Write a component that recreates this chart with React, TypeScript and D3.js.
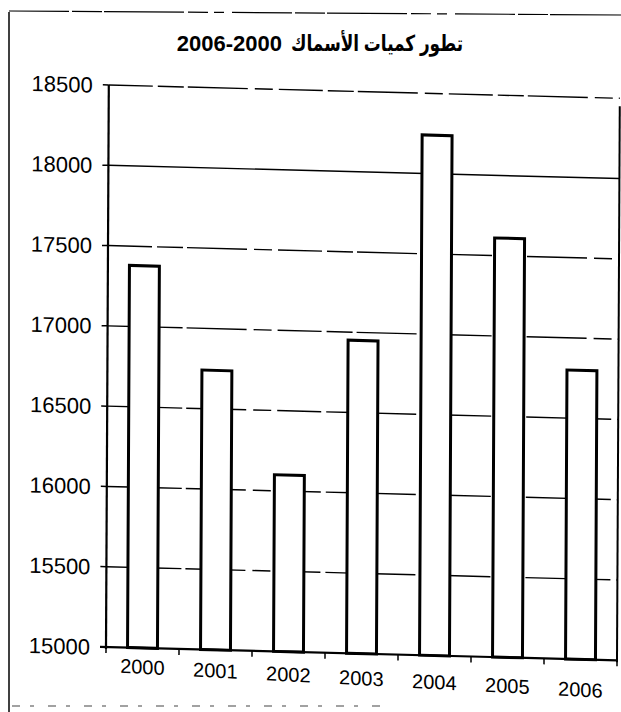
import * as d3 from "d3";

const years = ["2000", "2001", "2002", "2003", "2004", "2005", "2006"];
const fishTonnes = [17380, 16740, 16100, 16950, 18240, 17610, 16800];
const yTicks = [15000, 15500, 16000, 16500, 17000, 17500, 18000, 18500];
const titleWords = "تطور كميات الأسماك";
const titleYears = "2006-2000";

const W = 621;
const H = 712;
const font = "Arial, 'Liberation Sans', 'DejaVu Sans', sans-serif";

export default function App() {
  const left = 106;
  const right = 617;
  const top = 85;
  const bottom = 647;

  const x = d3.scaleBand().domain(years).range([left, right]).paddingInner(0.59).paddingOuter(0.295);
  const y = d3.scaleLinear().domain([15000, 18500]).range([bottom, top]);

  // the scan is a bit crooked: lines run downhill to the right
  const tilt = 0.026;
  const lean = -0.005;
  const skew = `matrix(1 ${tilt} ${lean} 1 ${-lean * bottom} ${-tilt * left})`;
  const labelTilt = 0.026;

  // gaps between categories for the tick marks under the axis
  const step = x.step();
  const catTicks = d3.range(years.length + 1).map((i) => left + i * step);

  return (
    <svg width={W} height={H} style={{ position: "absolute", left: 0, top: 0, background: "#fff" }}>
      {/* frame of the scanned figure */}
      <line x1={9} y1={12} x2={9} y2={H} stroke="#000" strokeWidth={1.5} />
      <line x1={9} y1={11} x2={W} y2={15} stroke="#000" strokeWidth={1.2} strokeDasharray="60 3 30 2 80 4 20 6 10 8" />
      <line x1={12} y1={706} x2={380} y2={706} stroke="#444" strokeWidth={1.2} strokeDasharray="8 10 4 14" />

      {/* title: years on the left, arabic words on the right */}
      <text x={282} y={51} textAnchor="end" fontFamily={font} fontWeight="bold" fontSize={22} fill="#000">
        {titleYears}
      </text>
      <text
        x={463}
        y={51}
        textAnchor="start"
        direction="rtl"
        fontFamily={font}
        fontWeight="bold"
        fontSize={22}
        fill="#000"
        textLength={172}
        lengthAdjust="spacingAndGlyphs"
      >
        {titleWords}
      </text>

      <g transform={skew}>
        {/* gridlines */}
        {yTicks.map((t) => (
          <line
            key={"g" + t}
            x1={left}
            x2={right}
            y1={y(t)}
            y2={y(t)}
            stroke="#000"
            strokeWidth={t === 15000 ? 0 : 1.4}
            strokeDasharray={t === 18000 ? "none" : "44 5 26 4 60 7 18 6"}
          />
        ))}

        {/* bars */}
        {years.map((yr, i) => (
          <rect
            key={yr}
            x={x(yr)}
            y={y(fishTonnes[i])}
            width={x.bandwidth()}
            height={bottom - y(fishTonnes[i])}
            fill="#fff"
            stroke="#000"
            strokeWidth={3}
          />
        ))}

        {/* axes and plot border */}
        <line x1={left} x2={left} y1={top} y2={bottom + 2} stroke="#000" strokeWidth={2.2} />
        <line x1={right} x2={right} y1={top + 8} y2={bottom + 2} stroke="#000" strokeWidth={2} />
        <line x1={left - 6} x2={right} y1={bottom} y2={bottom} stroke="#000" strokeWidth={2.2} />
        {yTicks.map((t) => (
          <line key={"t" + t} x1={left - 6} x2={left} y1={y(t)} y2={y(t)} stroke="#000" strokeWidth={1.5} />
        ))}
        {catTicks.map((cx, i) => (
          <line key={"c" + i} x1={cx} x2={cx} y1={bottom} y2={bottom + 6} stroke="#000" strokeWidth={1.5} />
        ))}

        {/* y tick labels */}
        {yTicks.map((t) => (
          <text
            key={"l" + t}
            x={left - 16}
            y={y(t) + 8}
            textAnchor="end"
            fontFamily={font}
            fontSize={22}
            fill="#000"
          >
            {t}
          </text>
        ))}

        {/* x labels sag more than the grid */}
        <g transform={`matrix(1 ${labelTilt} 0 1 0 ${-labelTilt * left})`}>
          {years.map((yr) => (
            <text
              key={"x" + yr}
              x={(x(yr) as number) + x.bandwidth() / 2}
              y={bottom + 25}
              textAnchor="middle"
              fontFamily={font}
              fontSize={20}
              fill="#000"
            >
              {yr}
            </text>
          ))}
        </g>
      </g>
    </svg>
  );
}
